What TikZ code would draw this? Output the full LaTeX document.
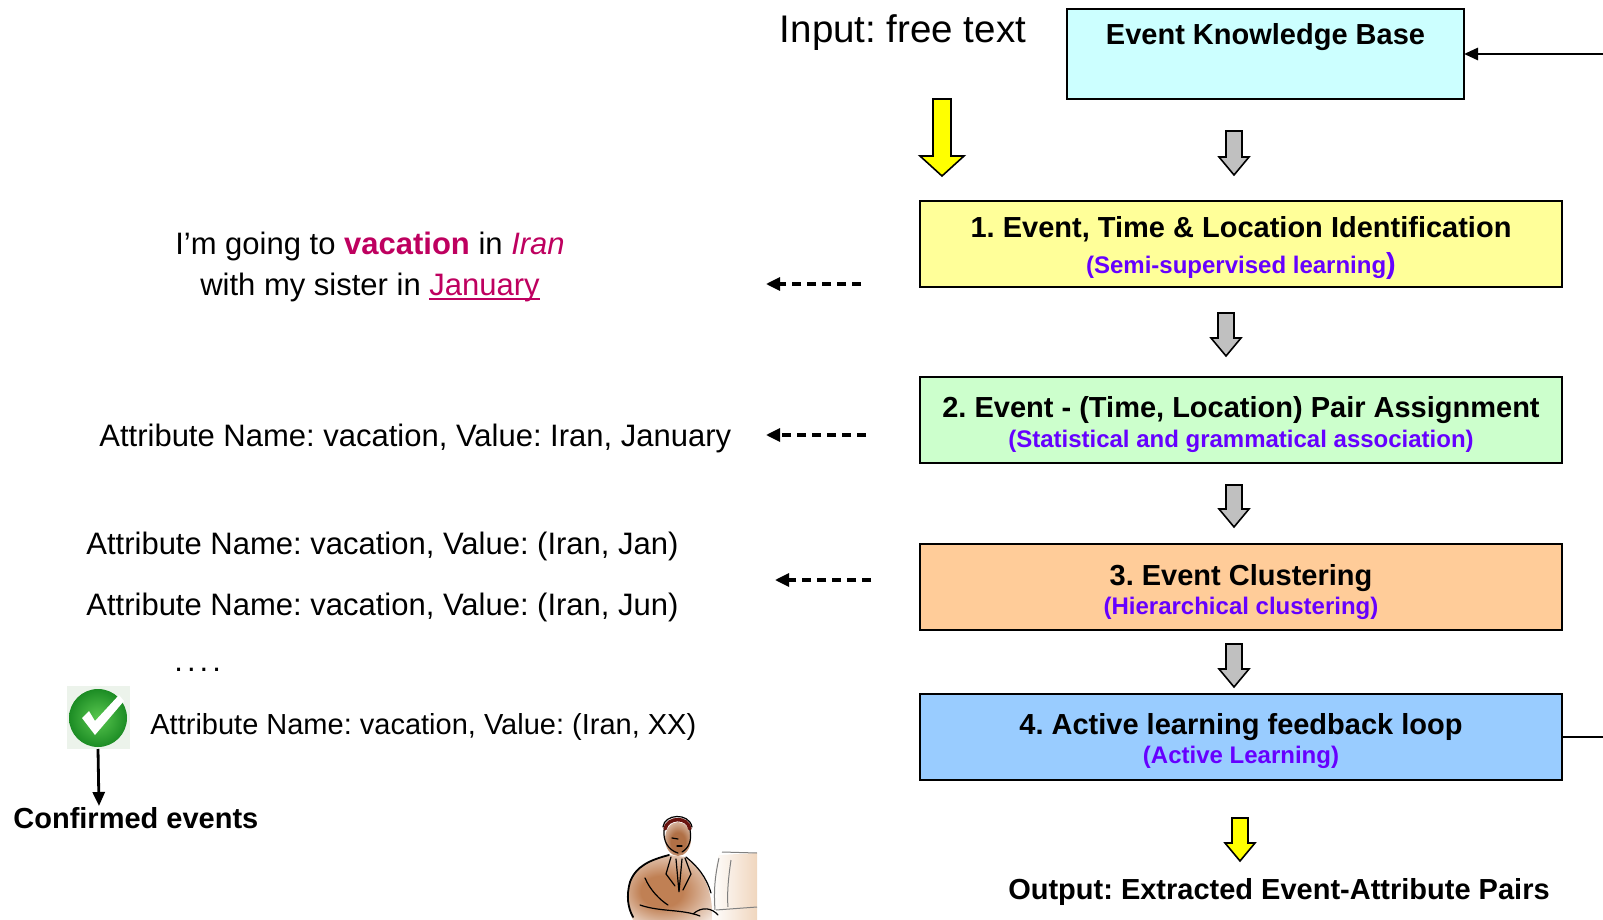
\documentclass[tikz,border=0pt]{standalone}
\usepackage{fontspec}
\setmainfont{Liberation Sans}
\usetikzlibrary{arrows.meta,calc}
\frenchspacing

\definecolor{kbfill}{RGB}{204,255,255}
\definecolor{sonefill}{RGB}{255,255,153}
\definecolor{stwofill}{RGB}{204,255,204}
\definecolor{sthreefill}{RGB}{255,204,153}
\definecolor{sfourfill}{RGB}{153,204,255}
\definecolor{method}{RGB}{102,0,255}
\definecolor{hilite}{RGB}{190,0,95}
\definecolor{blockgray}{RGB}{192,192,192}
\definecolor{blockyellow}{RGB}{255,255,0}
\definecolor{okdark}{RGB}{28,140,36}
\definecolor{oklight}{RGB}{90,200,80}
\definecolor{okback}{RGB}{236,243,235}
\definecolor{suitbrown}{RGB}{192,128,84}
\definecolor{skin}{RGB}{176,112,70}
\definecolor{hairred}{RGB}{105,20,15}
\definecolor{screen}{RGB}{240,214,190}

% soft brown washes for the figure
\pgfdeclareradialshading{suitwash}{\pgfpoint{-6bp}{-4bp}}{color(0bp)=(suitbrown); color(12bp)=(suitbrown); color(40bp)=(white); color(50bp)=(white)}
\pgfdeclareradialshading{facewash}{\pgfpoint{0bp}{-6bp}}{color(0bp)=(skin); color(14bp)=(skin); color(44bp)=(white); color(50bp)=(white)}

% block arrow pointing down: fill, centre x, top, head base, tip, shaft half-width, head half-width
\newcommand{\blockdown}[7]{%
  \draw[blockedge, fill=#1] ({#2-#6},#3) -- ({#2+#6},#3) -- ({#2+#6},#4) -- ({#2+#7},#4)
    -- (#2,#5) -- ({#2-#7},#4) -- ({#2-#6},#4) -- cycle;}

% underline set close to the baseline
\newcommand{\lowline}[1]{{\setbox0\hbox{#1}\rlap{\rule[-2.3pt]{\wd0}{0.9pt}}\box0}}

\tikzset{
  stage/.style={draw=black, line width=1pt, inner sep=0pt, outer sep=0pt, anchor=north west},
  stagetitle/.style={anchor=base, inner sep=0pt, font=\fontsize{14.5}{17}\selectfont\bfseries},
  stagesub/.style={anchor=base, inner sep=0pt, text=method, font=\fontsize{12}{14}\selectfont\bfseries},
  plain/.style={anchor=base west, inner sep=0pt, font=\fontsize{15.5}{19}\selectfont},
  dasharrow/.style={line width=1.6pt, dash pattern=on 4.5pt off 3pt, -{Triangle[length=7pt,width=6.5pt]}},
  solidarrow/.style={line width=1.4pt, -{Triangle[length=7pt,width=6pt]}},
  loopline/.style={line width=1.4pt},
  blockedge/.style={draw=black, line width=0.8pt, line join=miter},
  sketch/.style={draw=black, line width=0.6pt, line cap=round},
}

\begin{document}
\begin{tikzpicture}[x=0.5pt,y=-0.5pt]
\useasboundingbox (0,0) rectangle (1603,920);

% ---------- pipeline boxes ----------
\node[stage, fill=kbfill, minimum width=198.5pt, minimum height=45pt] (kb) at (1067,9) {};
\node[stagetitle] (kbtitle) at ($(kb.north)+(0,36)$) {Event Knowledge Base};

\node[stage, fill=sonefill, minimum width=321pt, minimum height=43pt] (s1) at (920,201) {};
\node[stagetitle] (s1title) at ($(s1.north)+(0,37)$) {1. Event, Time \& Location Identification};
\node[stagesub] (s1sub) at ($(s1.north)+(0,72.5)$) {(Semi-supervised learning{\fontsize{14.5}{17}\selectfont)}};

\node[stage, fill=stwofill, minimum width=321pt, minimum height=43pt] (s2) at (920,377) {};
\node[stagetitle] (s2title) at ($(s2.north)+(0,40)$) {2. Event - (Time, Location) Pair Assignment};
\node[stagesub] (s2sub) at ($(s2.north)+(0,70.5)$) {(Statistical and grammatical association)};

\node[stage, fill=sthreefill, minimum width=321pt, minimum height=43pt] (s3) at (920,544) {};
\node[stagetitle] (s3title) at ($(s3.north)+(0,41)$) {3. Event Clustering};
\node[stagesub] (s3sub) at ($(s3.north)+(0,70.5)$) {(Hierarchical clustering)};

\node[stage, fill=sfourfill, minimum width=321pt, minimum height=43pt] (s4) at (920,694) {};
\node[stagetitle] (s4title) at ($(s4.north)+(0,40)$) {4. Active learning feedback loop};
\node[stagesub] (s4sub) at ($(s4.north)+(0,69.5)$) {(Active Learning)};

% ---------- input / output ----------
\node[anchor=base, inner sep=0pt, font=\fontsize{19.25}{23}\selectfont] (input) at (903,43) {Input: free text};
\node[stagetitle] (output) at (1279,899) {Output: Extracted Event-Attribute Pairs};

% ---------- block arrows ----------
\blockdown{blockyellow}{942}{99}{156}{176}{9}{22}
\blockdown{blockgray}{1234}{131}{157}{175}{8}{15}
\blockdown{blockgray}{1226}{313}{338}{356}{8}{15}
\blockdown{blockgray}{1234}{485}{509}{527}{8}{15}
\blockdown{blockgray}{1234}{644}{669}{687}{8}{15}
\blockdown{blockyellow}{1240}{818}{843}{861}{8}{15}

% ---------- feedback loop ends ----------
\coordinate (loopin) at (1603,54);
\coordinate (loopout) at (1603,737);
\draw[solidarrow] (loopin) -- (kb.east);
\draw[loopline] (s4.east) -- (loopout);

% ---------- example outputs on the left ----------
% base anchor of a two-line node sits on its last line
\node[anchor=base, inner sep=0pt, align=center, font=\fontsize{15.5}{20.5}\selectfont] (sentence) at (370,295)
  {I’m going to \textcolor{hilite}{\bfseries vacation} in \textcolor{hilite}{\itshape Iran}\\
   with my sister in \textcolor{hilite}{\lowline{January}}};
\node[plain] (pairone) at (99,446) {Attribute Name: vacation, Value: Iran, January};
\node[plain] (pairjan) at (86,554) {Attribute Name: vacation, Value: (Iran, Jan)};
\node[plain] (pairjun) at (86,615) {Attribute Name: vacation, Value: (Iran, Jun)};
\node[plain] (moredots) at (174,671) {.\kern2pt.\kern2pt.\kern2pt.};
\node[plain, font=\fontsize{14.5}{17}\selectfont] (pairxx) at (150,734) {Attribute Name: vacation, Value: (Iran, XX)};

% dashed arrows from the stages to their results
\coordinate (d1tail) at (861,284); \coordinate (d1tip) at (766,284);
\coordinate (d2tail) at (866,435); \coordinate (d2tip) at (766,435);
\coordinate (d3tail) at (871,580); \coordinate (d3tip) at (775,580);
\draw[dasharrow] (d1tail) -- (d1tip);
\draw[dasharrow] (d2tail) -- (d2tip);
\draw[dasharrow] (d3tail) -- (d3tip);

% ---------- confirmed mark ----------
\fill[okback] (67,686) rectangle (130,749);
\node[circle, minimum size=29pt, inner sep=0pt, outer sep=0pt, inner color=oklight, outer color=okdark] (okmark) at (98,718) {};
\fill[white] (82,718) -- (89,711) -- (95,721) -- (119,695) -- (124,701) -- (95,735) -- cycle;
\node[anchor=base west, inner sep=0pt, font=\fontsize{14.5}{17}\selectfont\bfseries] (confirmed) at (13,828) {Confirmed events};
\draw[solidarrow] (okmark.south |- 0,749) -- (99,806);

% ---------- person at a computer ----------
% suit
\shade[shading=suitwash]
  (669,855) .. controls (650,860) and (634,866) .. (630,882)
  .. controls (626,896) and (628,910) .. (633,920) -- (712,920)
  .. controls (713,905) and (710,885) .. (700,872) .. controls (695,865) and (690,860) .. (686,857) -- cycle;
% face
\shade[shading=facewash] (678,839) ellipse (13 and 17);
% monitor
\shade[left color=white, right color=screen]
  (719,855) -- (757,853) -- (757,920) -- (713,920) .. controls (711,895) and (713,870) .. (719,855) -- cycle;
% hair
\draw[hairred, line width=1.8pt, line cap=round] (665,829) .. controls (667,817) and (688,816) .. (690,829);
\draw[sketch] (663,827) .. controls (664,814) and (689,812) .. (692,827);
% head outline
\draw[sketch] (664,830) .. controls (663,841) and (668,850) .. (678,853);
\draw[sketch] (690,830) .. controls (692,840) and (689,848) .. (682,852);
\draw[sketch] (672,838) -- (678,839);
\draw[sketch] (677,846) -- (682,846);
% shoulders and arms
\draw[sketch, line width=0.9pt] (669,855) .. controls (650,860) and (636,866) .. (630,882)
  .. controls (626,896) and (628,908) .. (633,917);
\draw[sketch] (686,857) .. controls (697,866) and (706,876) .. (711,893);
\draw[sketch] (645,878) .. controls (650,890) and (660,900) .. (668,905);
\draw[sketch] (640,905) .. controls (660,912) and (682,909) .. (700,916);
% lapels and tie
\draw[sketch] (671,857) -- (666,874) -- (675,886);
\draw[sketch] (685,858) -- (691,874) -- (683,890);
\draw[sketch] (676,859) -- (679,892) -- (682,859);
% hand on the keyboard
\draw[sketch] (693,914) .. controls (702,906) and (712,908) .. (718,915);
% monitor lines
\draw[gray, line width=0.5pt] (722,852) -- (757,853);
\draw[gray, line width=0.5pt] (719,858) .. controls (714,880) and (714,895) .. (715,910);
\draw[gray, line width=0.5pt] (731,860) .. controls (728,880) and (727,895) .. (728,907);
\draw[gray, line width=0.5pt] (716,910) -- (757,907);
\end{tikzpicture}
\end{document}
